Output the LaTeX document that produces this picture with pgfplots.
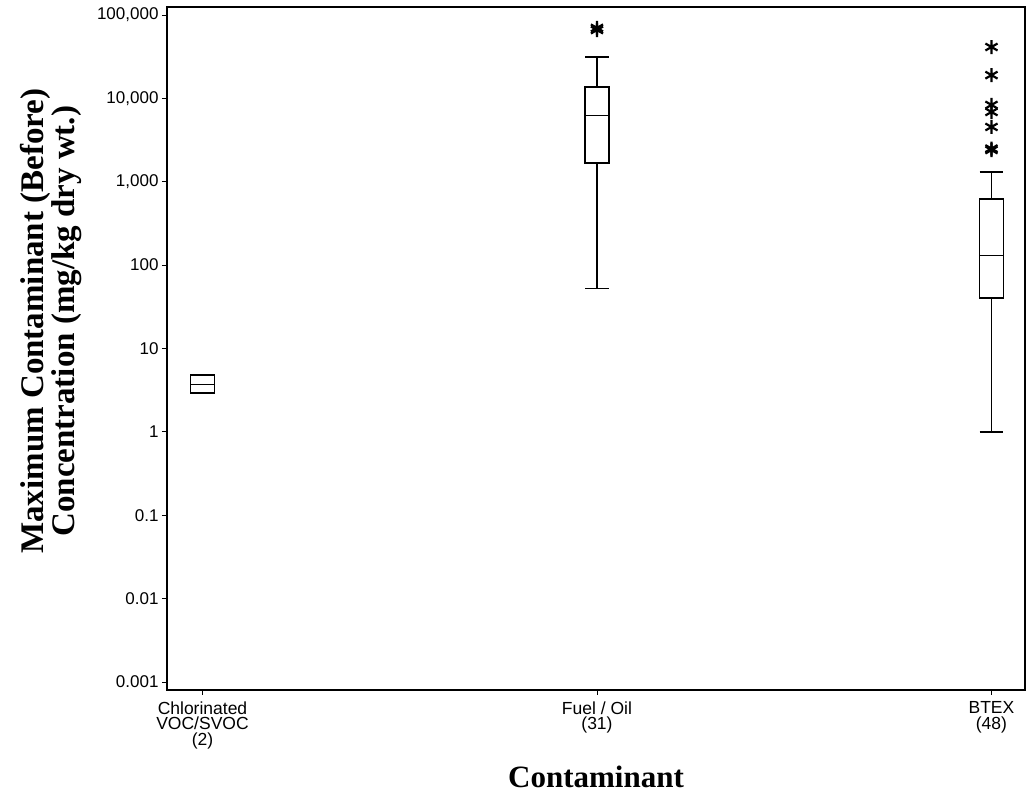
\documentclass[border=0pt]{standalone}
\usepackage{fontspec}
\setmainfont{Liberation Serif}
\newfontfamily\arial{Liberation Sans}
\usepackage{pgfplots}
\pgfplotsset{compat=1.18}
\usetikzlibrary{calc}

\begin{document}
\begin{tikzpicture}
\begin{axis}[
  name=ax,
  scale only axis,
  width=858pt, height=683pt,
  ymode=log,
  ymin=0.000802, ymax=124700,
  xmin=-0.09, xmax=2.085,
  xtick={0,1,2},
  xticklabels={{Chlorinated\\VOC/SVOC\\(2)},{Fuel / Oil\\(31)},{BTEX\\(48)}},
  ytick={0.001,0.01,0.1,1,10,100,1000,10000,100000},
  yticklabels={0.001,0.01,0.1,1,10,100,{1,000},{10,000},{100,000}},
  yminorticks=false,
  tick align=outside,
  tick pos=left,
  major tick length=5pt,
  tick style={black, line width=0.9pt},
  axis line style={line width=1.3pt},
  yticklabel style={font=\arial\fontsize{17}{17}\selectfont},
  xticklabel style={align=center, font=\arial\fontsize{17.5}{15.5}\selectfont, yshift=-3pt},
  xlabel={Contaminant},
  xlabel style={font=\bfseries\fontsize{31}{31}\selectfont, yshift=-10pt},
  ylabel={Maximum Contaminant (Before)\\Concentration (mg/kg dry wt.)},
  ylabel style={align=center, font=\bfseries\fontsize{33}{29}\selectfont, at={(ticklabel cs:0.54)}},
  ylabel shift=8pt,
  every axis plot/.append style={black},
]
% Chlorinated VOC/SVOC (n=2): box = whiskers
\addplot[line width=1.6pt] coordinates {(-0.03,2.95) (0.03,2.95) (0.03,4.8) (-0.03,4.8)} -- cycle;
\addplot[line width=1pt] coordinates {(-0.03,3.75) (0.03,3.75)};

% Fuel / Oil (n=31)
\addplot[line width=1.3pt] coordinates {(1,52) (1,1680)};
\addplot[line width=1.3pt] coordinates {(1,13700) (1,31300)};
\addplot[line width=1.3pt] coordinates {(0.97,52) (1.03,52)};
\addplot[line width=1.3pt] coordinates {(0.97,31300) (1.03,31300)};
\addplot[line width=1.6pt] coordinates {(0.97,1680) (1.03,1680) (1.03,13700) (0.97,13700)} -- cycle;
\addplot[line width=1pt] coordinates {(0.97,6150) (1.03,6150)};
\addplot[only marks, mark=asterisk, mark size=7pt, mark options={line width=2.2pt}]
  coordinates {(1,66000) (1,70000)};

% BTEX (n=48)
\addplot[line width=1.3pt] coordinates {(2,1) (2,40.5)};
\addplot[line width=1.3pt] coordinates {(2,622) (2,1310)};
\addplot[line width=1.3pt] coordinates {(1.97,1) (2.03,1)};
\addplot[line width=1.3pt] coordinates {(1.97,1310) (2.03,1310)};
\addplot[line width=1.6pt] coordinates {(1.97,40.5) (2.03,40.5) (2.03,622) (1.97,622)} -- cycle;
\addplot[line width=1pt] coordinates {(1.97,132) (2.03,132)};
\addplot[only marks, mark=asterisk, mark size=7pt, mark options={line width=2.2pt}]
  coordinates {(2,2400) (2,2500) (2,4540) (2,6870) (2,8340) (2,19000) (2,41300)};
\end{axis}
\pgfresetboundingbox
\path ($(ax.south west)+(-167pt,-113pt)$) rectangle ($(ax.north east)+(1pt,7pt)$);
\end{tikzpicture}
\end{document}
